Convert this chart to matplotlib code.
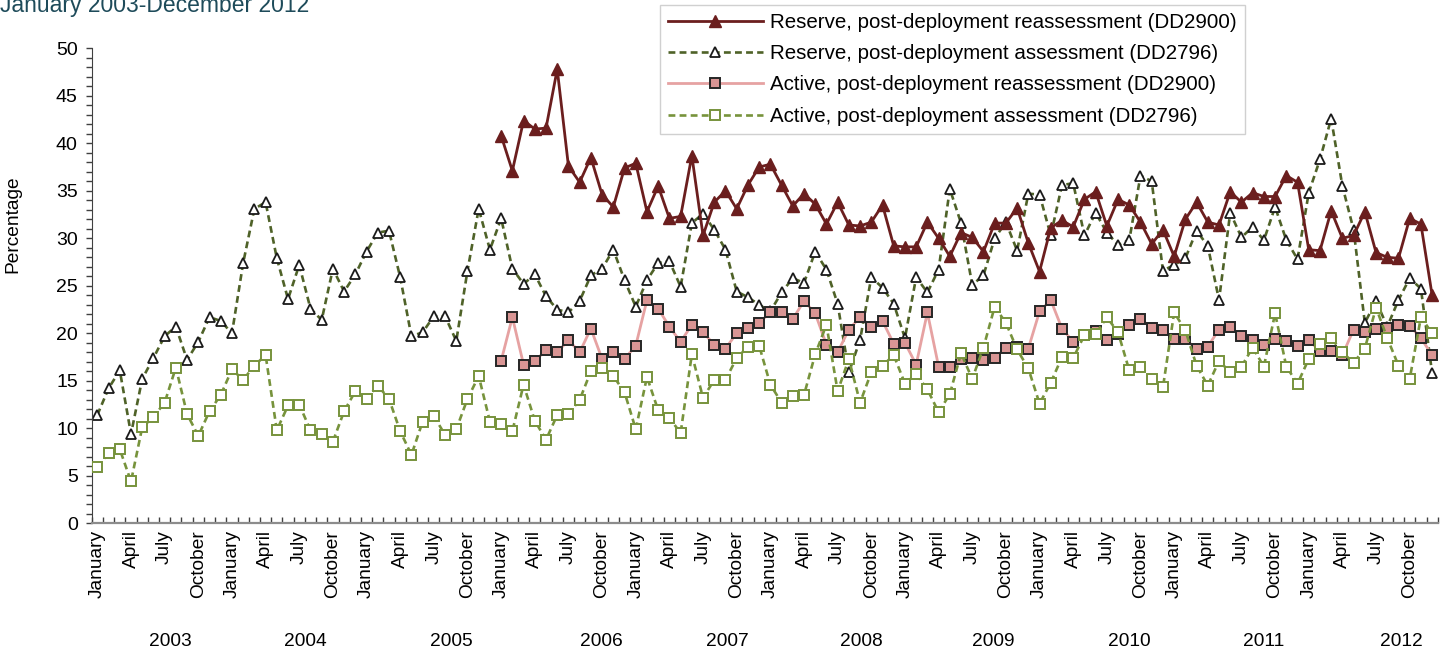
import numpy as np
import matplotlib
matplotlib.use("Agg")
import matplotlib.pyplot as plt
from matplotlib.ticker import MultipleLocator

plt.rcParams['font.family'] = ['Liberation Sans', 'DejaVu Sans']

# Data (monthly percentages, Jan 2003 - Dec 2012)
years = [2003, 2004, 2005, 2006, 2007, 2008, 2009, 2010, 2011, 2012]
month_labels = ['January', 'April', 'July', 'October']

reserve_assess = [
    11.4, 14.2, 16.1, 9.4, 15.2, 17.4, 19.7, 20.7, 17.2, 19.1, 21.7, 21.3,
    20.0, 27.4, 33.1, 33.8, 27.9, 23.6, 27.2, 22.6, 21.4, 26.8, 24.4, 26.2,
    28.6, 30.6, 30.8, 25.9, 19.7, 20.1, 21.8, 21.8, 19.2, 26.6, 33.1, 28.8,
    32.1, 26.8, 25.2, 26.2, 23.9, 22.5, 22.2, 23.4, 26.1, 26.8, 28.8, 25.6,
    22.8, 25.6, 27.4, 27.6, 24.9, 31.6, 32.6, 30.9, 28.8, 24.4, 23.8, 23.0,
    22.3, 24.3, 25.8, 25.3, 28.6, 26.7, 23.1, 15.9, 19.3, 25.9, 24.8, 23.1,
    19.5, 25.9, 24.3, 26.7, 35.2, 31.6, 25.1, 26.1, 30.0, 31.7, 28.7, 34.7,
    34.6, 30.3, 35.6, 35.8, 30.3, 32.7, 30.6, 29.3, 29.8, 36.6, 36.0, 26.6,
    27.2, 27.9, 30.8, 29.2, 23.5, 32.7, 30.1, 31.2, 29.8, 33.3, 29.8, 27.8,
    34.8, 38.3, 42.6, 35.5, 30.9, 21.1, 23.4, 20.7, 23.5, 25.8, 24.7, 15.8,
]

# reassessment series start in January 2006
reserve_reassess = [np.nan] * 36 + [
    40.8, 37.1, 42.4, 41.5, 41.6, 47.8, 37.6, 35.9, 38.5, 34.6, 33.3, 37.4,
    37.9, 32.8, 35.5, 32.1, 32.3, 38.7, 30.3, 33.8, 35.0, 33.1, 35.6, 37.5,
    37.8, 35.6, 33.4, 34.7, 33.6, 31.5, 33.8, 31.4, 31.3, 31.7, 33.5, 29.2,
    29.1, 29.1, 31.7, 30.0, 28.1, 30.6, 30.1, 28.6, 31.6, 31.6, 33.2, 29.5,
    26.5, 31.1, 31.9, 31.2, 34.1, 34.9, 31.3, 34.1, 33.5, 31.7, 29.4, 30.9,
    28.1, 32.0, 33.8, 31.7, 31.4, 34.9, 33.8, 34.8, 34.4, 34.4, 36.6, 35.9,
    28.8, 28.7, 32.9, 30.0, 30.3, 32.8, 28.5, 28.0, 27.9, 32.1, 31.5, 24.0,
]

active_reassess = [np.nan] * 36 + [
    17.1, 21.7, 16.7, 17.1, 18.2, 18.0, 19.3, 18.0, 20.5, 17.3, 18.0, 17.3,
    18.7, 23.5, 22.6, 20.7, 19.1, 20.9, 20.1, 18.8, 18.4, 20.0, 20.6, 21.1,
    22.2, 22.2, 21.5, 23.4, 22.1, 18.8, 18.0, 20.4, 21.7, 20.7, 21.3, 18.9,
    19.0, 16.7, 22.2, 16.5, 16.5, 17.3, 17.4, 17.2, 17.4, 18.5, 18.6, 18.4,
    22.3, 23.5, 20.5, 19.1, 19.8, 20.2, 19.3, 19.9, 20.9, 21.5, 20.6, 20.4,
    19.4, 19.4, 18.3, 18.6, 20.4, 20.7, 19.7, 19.3, 18.8, 19.4, 19.2, 18.7,
    19.3, 18.1, 18.1, 17.7, 20.4, 20.1, 20.5, 20.6, 20.9, 20.8, 19.5, 17.7,
]

active_assess = [
    5.9, 7.4, 7.8, 4.4, 10.1, 11.2, 12.7, 16.4, 11.5, 9.2, 11.8, 13.5,
    16.2, 15.1, 16.6, 17.7, 9.8, 12.4, 12.5, 9.8, 9.4, 8.6, 11.8, 13.9,
    13.1, 14.5, 13.1, 9.7, 7.2, 10.7, 11.3, 9.3, 9.9, 13.1, 15.5, 10.7,
    10.5, 9.7, 14.6, 10.8, 8.8, 11.4, 11.5, 13.0, 16.0, 16.3, 15.5, 13.8,
    9.9, 15.4, 11.9, 11.1, 9.5, 17.8, 13.2, 15.1, 15.1, 17.4, 18.6, 18.7,
    14.6, 12.7, 13.4, 13.5, 17.8, 20.9, 13.9, 17.3, 12.7, 15.9, 16.6, 17.7,
    14.7, 15.7, 14.1, 11.7, 13.6, 17.9, 15.2, 18.5, 22.8, 21.1, 18.3, 16.3,
    12.6, 14.8, 17.5, 17.4, 19.8, 19.9, 21.7, 20.1, 16.1, 16.5, 15.2, 14.3,
    22.2, 20.3, 16.6, 14.5, 17.1, 15.9, 16.5, 18.5, 16.5, 22.1, 16.5, 14.7,
    17.3, 18.9, 19.5, 18.0, 16.9, 18.4, 22.7, 19.5, 16.6, 15.2, 21.7, 20.0,
]

# year label offsets (months) from group centre, as placed in the original
year_offsets = [1.0, 1.0, 2.1, 3.4, 2.7, 2.6, 2.4, 2.5, 2.5, 2.8]

n = len(active_assess)
x = np.arange(n)

fig = plt.figure(figsize=(14.47, 6.52), dpi=100)
ax = fig.add_axes([0.0634, 0.1974, 0.9302, 0.7285])

dash = (0, (2.6, 1.6))

ax.plot(x, reserve_assess, color='#4F6228', lw=1.9, linestyle=dash,
        marker='^', ms=7, mfc='white', mec='#1a1a1a', mew=1.3,
        label='Reserve, post-deployment assessment (DD2796)', zorder=2)
ax.plot(x, reserve_reassess, color='#6B1E1E', lw=2.0,
        marker='^', ms=8, mfc='#6B1E1E', mec='#6B1E1E', mew=1,
        label='Reserve, post-deployment reassessment (DD2900)', zorder=3)
ax.plot(x, active_reassess, color='#E6A2A2', lw=2.0,
        marker='s', ms=7, mfc='#D99594', mec='#262626', mew=1.4,
        label='Active, post-deployment reassessment (DD2900)', zorder=4)
ax.plot(x, active_assess, color='#77933C', lw=1.9, linestyle=dash,
        marker='s', ms=7, mfc='white', mec='#77933C', mew=1.4,
        label='Active, post-deployment assessment (DD2796)', zorder=5)

# axes styling
ax.set_xlim(-0.5, n - 0.5)
ax.set_ylim(0, 50)
ax.yaxis.set_major_locator(MultipleLocator(5))
ax.yaxis.set_minor_locator(MultipleLocator(1))
ax.tick_params(axis='y', which='both', direction='out', length=4, width=1,
               color='#404040', labelsize=14, pad=6)

xt = np.arange(0, n, 3)
ax.set_xticks(xt)
ax.set_xticklabels([month_labels[(i // 3) % 4] for i in xt], rotation=90,
                   fontsize=13.8)
ax.set_xticks(np.arange(-0.5, n, 1), minor=True)
ax.tick_params(axis='x', which='major', length=0, pad=5)
ax.tick_params(axis='x', which='minor', direction='in', length=4.5, width=1,
               color='#404040')

for side in ['top', 'right']:
    ax.spines[side].set_visible(False)
ax.spines['left'].set_color('#404040')
ax.spines['bottom'].set_color('#8c8c8c')
ax.spines['bottom'].set_linewidth(1.6)

ax.set_ylabel('Percentage', fontsize=13.8)
ax.yaxis.set_label_coords(-0.052, 0.63)

for k, yr in enumerate(years):
    ax.text(k * 12 + 5.5 + year_offsets[k], -0.248, str(yr), fontsize=13.8,
            ha='center', va='center', transform=ax.get_xaxis_transform())

# legend in the order of the original
h, l = ax.get_legend_handles_labels()
order = [1, 0, 2, 3]
leg = fig.legend([h[i] for i in order], [l[i] for i in order],
                 loc='upper left', bbox_to_anchor=(0.456, 0.993),
                 fontsize=14.8, frameon=True, fancybox=False,
                 edgecolor='#d0d0d0', framealpha=1, handlelength=4.6,
                 handletextpad=0.35, labelspacing=0.6, borderpad=0.4,
                 borderaxespad=0)
leg.get_frame().set_linewidth(1)
leg.set_zorder(10)

fig.text(0.0, 1 - 12 / 652, 'January 2003-December 2012', fontsize=16.5,
         color='#1E4B5A', ha='left', va='baseline')

fig.savefig('out.png', dpi=100)
